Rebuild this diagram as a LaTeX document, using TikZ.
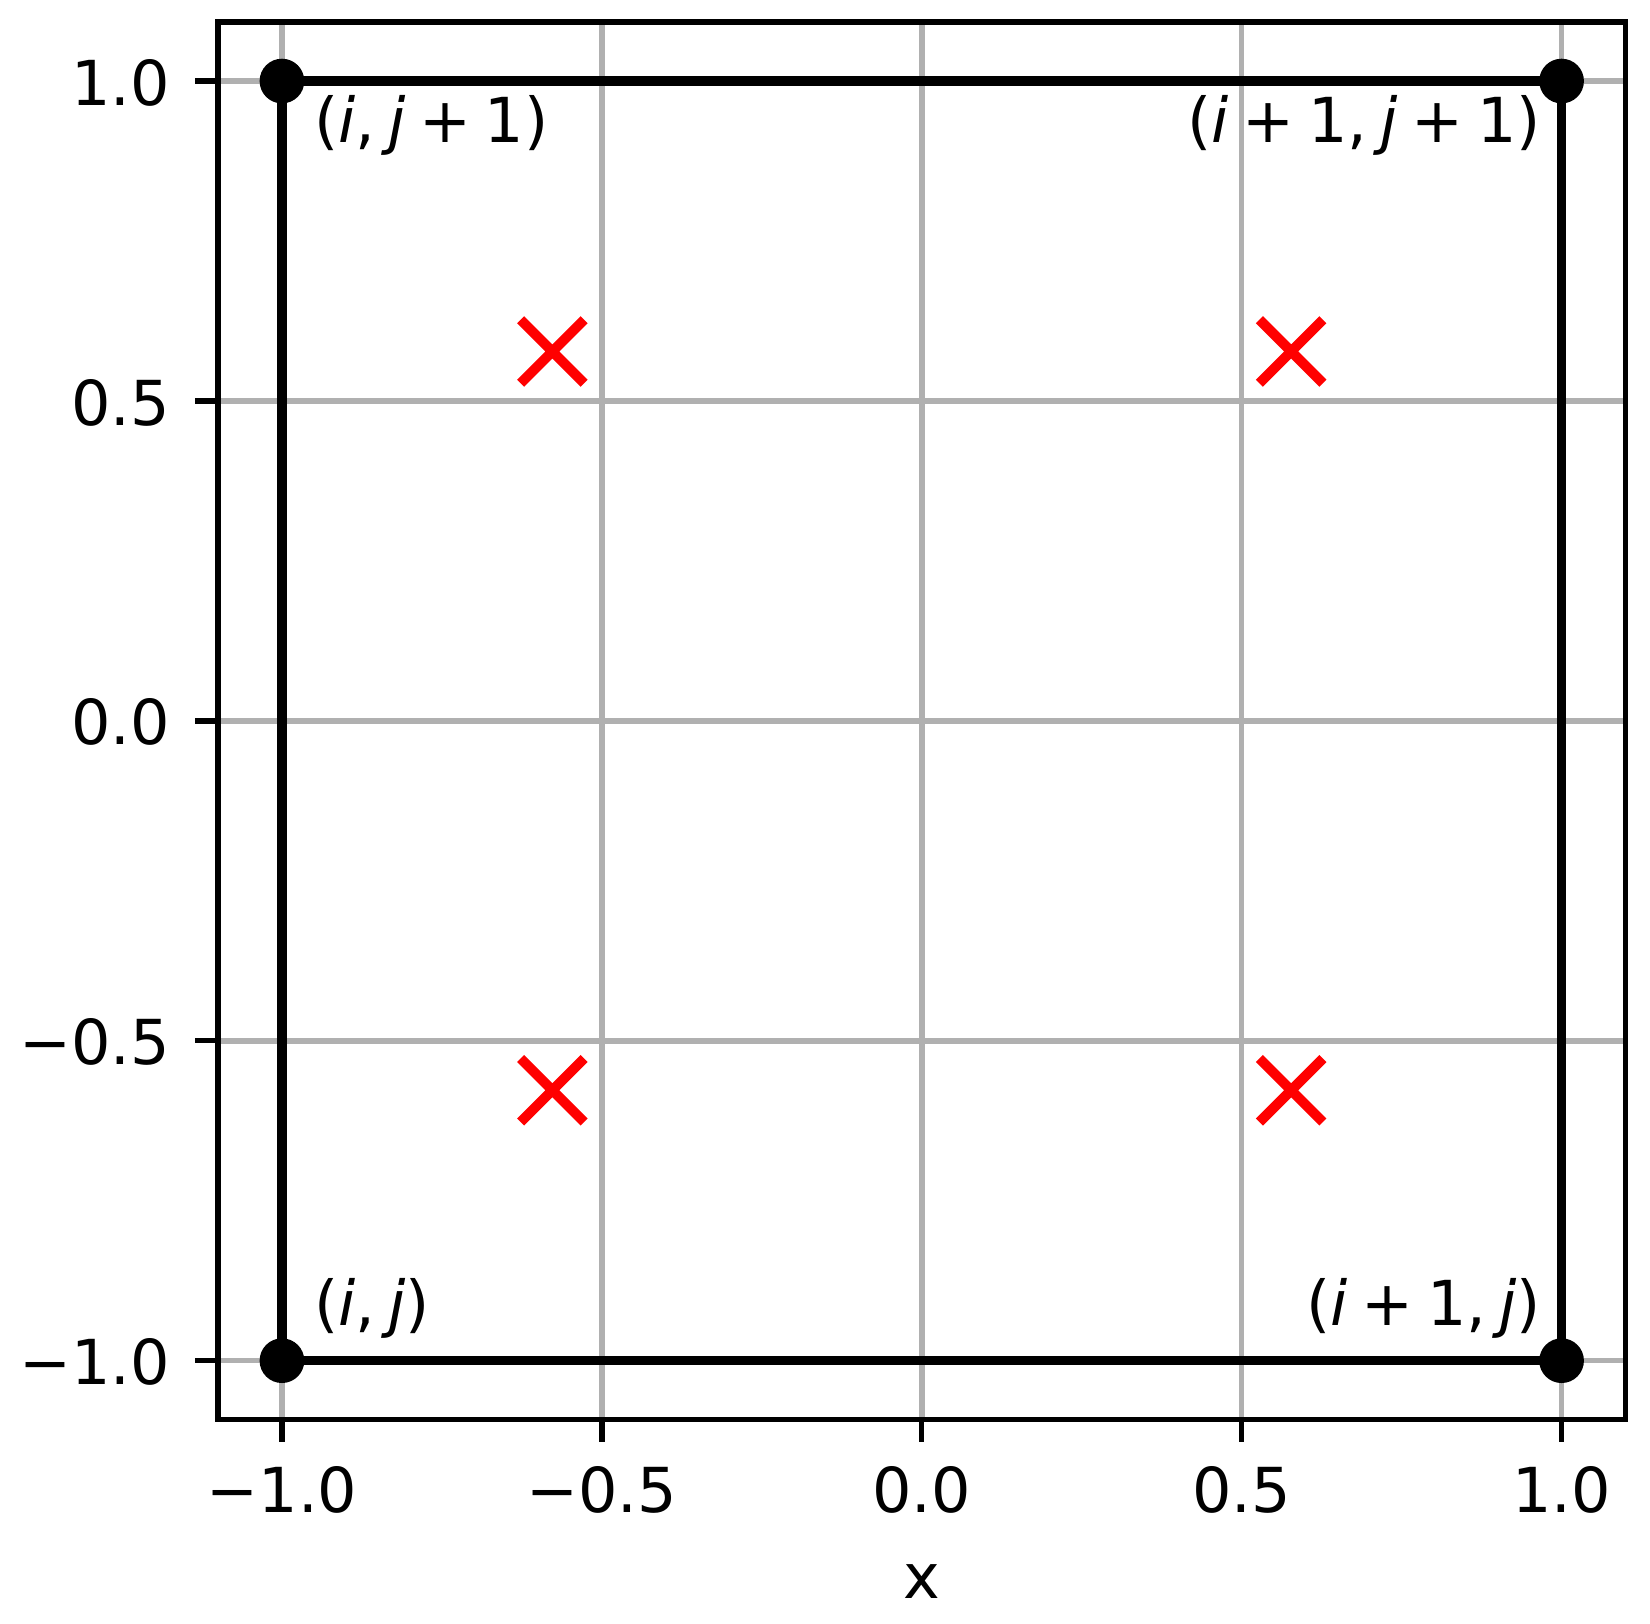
\documentclass[tikz,border=0pt]{standalone}
\usepackage{fontspec}
\setmainfont{DejaVu Sans}
\usetikzlibrary{shapes.misc}
\definecolor{gridgrey}{HTML}{B0B0B0}
\definecolor{mplred}{HTML}{FF0000}
\newcommand\plsep{\hspace{0.22em}+\hspace{0.22em}}
\newcommand\cmsep{,\hspace{0.21em}}
\begin{document}
\begin{tikzpicture}[x=319.9pt,y=319.9pt,
  gridline/.style={draw=gridgrey,line width=2.75pt},
  frameline/.style={draw=black,line width=2.65pt},
  tickmark/.style={draw=black,line width=2.65pt},
  ticktext/.style={inner sep=0pt,font=\fontsize{31}{37}\selectfont},
  ptlabel/.style={inner sep=0pt,font=\fontsize{31}{37}\selectfont},
  sqline/.style={draw=black,line width=4.8pt},
  dot/.style={circle,fill=black,inner sep=0pt,minimum size=22.35pt},
  gauss/.style={cross out,draw=mplred,line width=5pt,minimum size=31.75pt,inner sep=0pt,outer sep=0pt}]
\useasboundingbox (-1.4407,-1.4101) rectangle (1.1382,1.1267);
% frame corners
\coordinate (fsw) at (-1.1,-1.0922);
\coordinate (fne) at (1.1,1.0922);
% grid
\foreach \v in {-1,-0.5,0,0.5,1} {
  \draw[gridline] (\v,-1.0922) -- (\v,1.0922);
  \draw[gridline] (-1.1,\v) -- (1.1,\v);
}
% square corners
\coordinate (ll) at (-1,-1);
\coordinate (lr) at (1,-1);
\coordinate (ur) at (1,1);
\coordinate (ul) at (-1,1);
\draw[sqline,line join=round] (ll) -- (lr) -- (ur) -- (ul) -- cycle;
\node[dot] (dll) at (ll) {};
\node[dot] (dlr) at (lr) {};
\node[dot] (dur) at (ur) {};
\node[dot] (dul) at (ul) {};
% Gauss points
\node[gauss] (g1) at (-0.57735,0.57735) {};
\node[gauss] (g2) at (0.57735,0.57735) {};
\node[gauss] (g3) at (-0.57735,-0.57735) {};
\node[gauss] (g4) at (0.57735,-0.57735) {};
% point labels
\node[ptlabel,anchor=base west] (lij) at (-0.95,-0.9443) {(\textit{i}\cmsep\textit{j})};
\node[ptlabel,anchor=base west] (lij1) at (-0.95,0.9036) {(\textit{i}\cmsep\textit{j}\plsep 1)};
\node[ptlabel,anchor=base east] (li1j1) at (0.968,0.9036) {(\textit{i}\plsep 1\cmsep\textit{j}\plsep 1)};
\node[ptlabel,anchor=base east] (li1j) at (0.968,-0.9443) {(\textit{i}\plsep 1\cmsep\textit{j})};
% frame
\draw[frameline] (fsw) rectangle (fne);
% ticks and tick labels
\foreach \v/\t in {-1/−1.0,-0.5/−0.5,0/0.0,0.5/0.5,1/1.0} {
  \draw[tickmark] (\v,-1.0922) -- ++(0,-11pt);
  \node[ticktext,anchor=base] at (\v,-1.2377) {\t};
  \draw[tickmark] (-1.1,\v) -- ++(-11.5pt,0);
  \node[ticktext,anchor=base east] at (-1.1742,\v-0.0376) {\t};
}
\node[ticktext,anchor=base] (xlab) at (0,-1.3715) {x};
\end{tikzpicture}
\end{document}
